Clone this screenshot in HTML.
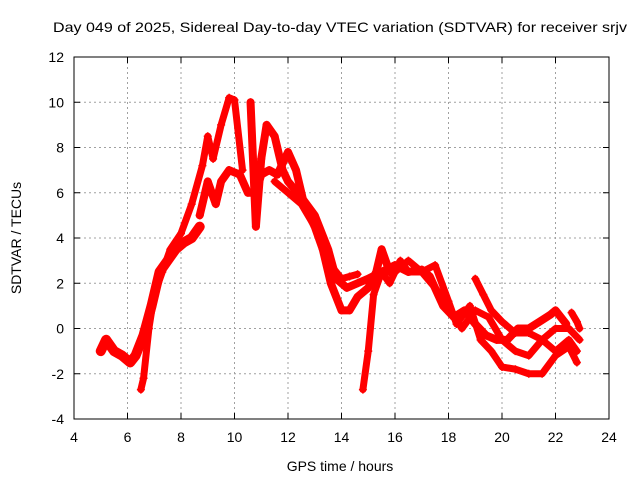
<!DOCTYPE html>
<html><head><meta charset="utf-8"><style>
html,body{margin:0;padding:0;background:#fff}
svg{display:block;font-family:"Liberation Sans",sans-serif}
</style></head><body>
<svg id="chart" width="640" height="480">
<rect width="640" height="480" fill="#fff"/>
<text x="340" y="32" text-anchor="middle" font-size="14" textLength="574" lengthAdjust="spacingAndGlyphs">Day 049 of 2025, Sidereal Day-to-day VTEC variation (SDTVAR) for receiver srjv</text>
<text x="340" y="471" text-anchor="middle" font-size="14">GPS time / hours</text>
<text x="0" y="0" transform="translate(21,238) rotate(-90)" text-anchor="middle" font-size="14">SDTVAR / TECUs</text>
<g id="grid"></g><g id="marks"></g><g id="axes"></g>
</svg>
<script>
const xTicks=[4,6,8,10,12,14,16,18,20,22,24];
const yTicks=[-4,-2,0,2,4,6,8,10,12];
const t1Hours=[5.0,5.2,5.5,5.8,6.1,6.3,6.6,6.9,7.2,7.5,7.8,8.1,8.4,8.7];
const t1Values=[-1.0,-0.5,-1.0,-1.2,-1.5,-1.2,-0.3,1.0,2.5,3.0,3.5,3.8,4.0,4.5];
const t2Hours=[6.5,6.6,6.8,7.0,7.3,7.6,8.0,8.4,8.8,9.0,9.2,9.5,9.8,10.0,10.3];
const t2Values=[-2.7,-2.2,0,1.5,2.5,3.5,4.2,5.5,7.2,8.5,7.5,9.0,10.2,10.1,7.0];
const t3Hours=[8.7,9.0,9.3,9.5,9.8,10.2,10.5,10.8,11.0,11.3,11.6,12.0,12.3,12.6,13.0,13.3,13.6,14.0,14.3,14.6,15.0,15.3,15.5,15.8];
const t3Values=[5,6.5,5.5,6.5,7.0,6.8,6.0,6.0,6.8,7.0,6.8,7.8,7.0,5.5,4.5,3.5,2.0,0.8,0.8,1.4,1.8,2.5,3.5,2.5];
const t4Hours=[10.6,10.8,11.0,11.2,11.5,11.8,12.0,12.5,13.0,13.5,13.8,14.2,14.6,15.0,15.5,16.0,16.5,17.0,17.3,17.8,18.2,18.6,19.0,19.4,19.8,20.2,20.6,21.0,21.4,21.8,22.0,22.4];
const t4Values=[10,4.5,7.5,9,8.5,7,6.5,5.8,5.0,3.5,2.2,1.8,2.0,2.2,2.5,2.8,2.5,2.6,2.3,1.0,0.5,0.8,0.2,-0.3,-0.5,-0.5,0,0,0.3,0.6,0.8,0.2];
const t5Hours=[14.8,15.0,15.2,15.5,15.8,16.2,16.5,17.0,17.5,18.0,18.3,18.8,19.2,19.6,20.0,20.5,21.0,21.5,22.0,22.5,22.8];
const t5Values=[-2.7,-1.0,1.5,2.5,2.0,3.0,2.5,2.5,2.8,1.2,0.2,1.0,-0.5,-1.0,-1.7,-1.8,-2.0,-2.0,-1.2,-0.8,-1.5];
const t6Hours=[16.0,16.5,17.0,17.5,18.0,18.5,19.0,19.5,20.0,20.5,21.0,21.5,22.0,22.5,22.9];
const t6Values=[2.5,3.0,2.5,1.8,1.0,0.0,0.8,0.5,-0.5,-1.0,-1.2,-0.5,0.0,0.0,-0.5];
const t7Hours=[19.0,19.3,19.6,20.0,20.3,20.5,21.0,21.5,22.0,22.5,22.8];
const t7Values=[2.2,1.5,0.8,0.3,0.0,-0.2,-0.2,-0.5,-1.0,-0.5,-1.0];
const t8Hours=[22.6,22.8,22.9];
const t8Values=[0.7,0.3,0.0];
const t9Hours=[11.5,12.0,12.5,13.0,13.3,13.6,14.0,14.3,14.6];
const t9Values=[6.5,6.0,5.5,4.5,3.5,2.8,2.2,2.3,2.4];

const NS="http://www.w3.org/2000/svg";
const L=74,R=609,T=57,B=419,xMin=4,xMax=24,yMin=-4,yMax=12;
function xs(v){return L+(v-xMin)/(xMax-xMin)*(R-L);}
function ys(v){return B-(v-yMin)/(yMax-yMin)*(B-T);}
function mk(tag,attrs,parent){const e=document.createElementNS(NS,tag);for(const k in attrs)e.setAttribute(k,attrs[k]);parent.appendChild(e);return e;}
const grid=document.getElementById('grid'),axes=document.getElementById('axes'),marks=document.getElementById('marks');
xTicks.forEach(t=>{
  const x=xs(t);
  if(t>xMin&&t<xMax){const g=mk('line',{x1:x,x2:x,y1:T,y2:B,stroke:'#a0a0a0','stroke-dasharray':'2,3'},grid);
  
  }
  mk('line',{x1:x,x2:x,y1:B,y2:B-6,stroke:'#000'},axes);
  mk('line',{x1:x,x2:x,y1:T,y2:T+6,stroke:'#000'},axes);
  const lb=mk('text',{x:x,y:B+23,'text-anchor':'middle','font-size':'14'},axes);lb.textContent=t;
  
  
});
yTicks.forEach(t=>{
  const y=ys(t);
  if(t>yMin&&t<yMax){const g=mk('line',{x1:L,x2:R,y1:y,y2:y,stroke:'#a0a0a0','stroke-dasharray':'2,3'},grid);
  
  }
  mk('line',{x1:L,x2:L+6,y1:y,y2:y,stroke:'#000'},axes);
  mk('line',{x1:R,x2:R-6,y1:y,y2:y,stroke:'#000'},axes);
  const lb=mk('text',{x:L-10,y:y+5,'text-anchor':'end','font-size':'14'},axes);lb.textContent=t;
  
  
});
const frame=mk('rect',{x:L,y:T,width:R-L,height:B-T,fill:'none',stroke:'#000'},axes);


const tracks=[[t1Hours,t1Values,10],[t2Hours,t2Values,7],[t3Hours,t3Values,8],[t4Hours,t4Values,8],[t5Hours,t5Values,7],[t6Hours,t6Values,7],[t7Hours,t7Values,7],[t8Hours,t8Values,7],[t9Hours,t9Values,7]];
tracks.forEach((tr,i)=>{
  const pts=tr[0].map((h,j)=>xs(h)+','+ys(tr[1][j])).join(' ');
  const pl=mk('polyline',{points:pts,fill:'none',stroke:'#f00','stroke-width':tr[2],'stroke-linejoin':'round','stroke-linecap':'round'},marks);
  
  
  tr[0].forEach((h,j)=>{
    const x=xs(h),y=ys(tr[1][j]);
    const p=mk('path',{d:`M${x-4},${y}H${x+4}M${x},${y-4}V${y+4}`,stroke:'#f00','stroke-width':1.5},marks);
    
    
  });
});
</script>
</body></html>
